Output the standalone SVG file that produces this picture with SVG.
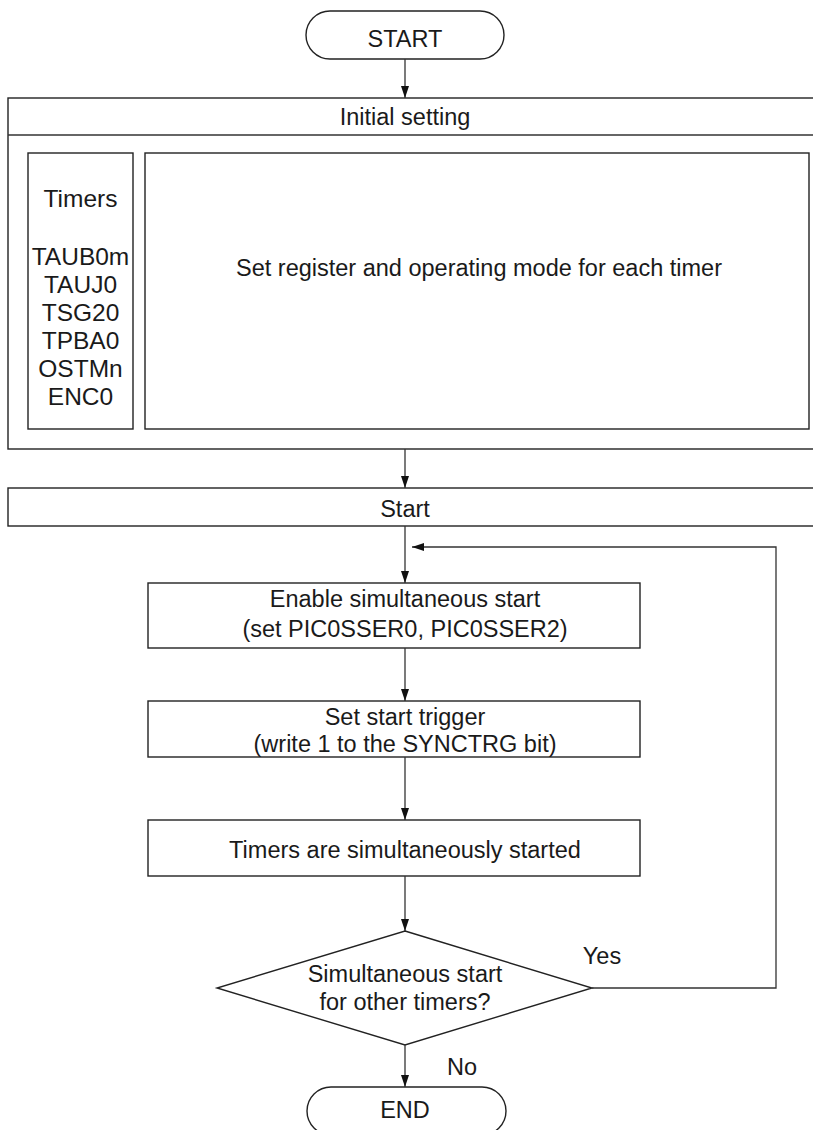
<svg xmlns="http://www.w3.org/2000/svg" width="813" height="1130" viewBox="0 0 813 1130">
<defs>
<style>
.s{fill:#fff;stroke:#222;stroke-width:1.4}
.ln{fill:none;stroke:#333;stroke-width:1.3}
text{font-family:"Liberation Sans",Arial,sans-serif;font-size:23.5px;fill:#1a1a1a;text-anchor:middle}
.tm{font-size:24.5px}
</style>
<marker id="ah" markerWidth="12" markerHeight="18" refX="18" refY="6" orient="auto" markerUnits="userSpaceOnUse" viewBox="0 0 18 12">
<path d="M0,0 L18,6 L0,12 Z" fill="#111"/>
</marker>
</defs>
<rect width="813" height="1130" fill="#fff"/>
<g id="start">
<rect class="s" x="306" y="11" width="198" height="48" rx="24" ry="24"/>
<text x="405" y="47">START</text>
</g>
<g id="initial">
<rect class="s" x="8" y="98" width="820" height="351"/>
<line class="ln" x1="8" y1="135" x2="828" y2="135"/>
<text x="405" y="125">Initial setting</text>
</g>
<g id="timers">
<rect class="s" x="28" y="153" width="105" height="276"/>
<text class="tm" x="80.5" y="207">Timers</text>
<text class="tm" x="80.5" y="265">TAUB0m</text>
<text class="tm" x="80.5" y="293">TAUJ0</text>
<text class="tm" x="80.5" y="321">TSG20</text>
<text class="tm" x="80.5" y="349">TPBA0</text>
<text class="tm" x="80.5" y="377">OSTMn</text>
<text class="tm" x="80.5" y="405">ENC0</text>
</g>
<g id="setreg">
<rect class="s" x="145" y="153" width="664" height="276"/>
<text x="479" y="276">Set register and operating mode for each timer</text>
</g>
<g id="startbar">
<rect class="s" x="8" y="488" width="820" height="38"/>
<text x="405" y="517">Start</text>
</g>
<g id="enable">
<rect class="s" x="148" y="583" width="492" height="65"/>
<text x="405" y="607">Enable simultaneous start</text>
<text x="405" y="637">(set PIC0SSER0, PIC0SSER2)</text>
</g>
<g id="trigger">
<rect class="s" x="148" y="701" width="492" height="56"/>
<text x="405" y="725">Set start trigger</text>
<text x="405" y="752">(write 1 to the SYNCTRG bit)</text>
</g>
<g id="started">
<rect class="s" x="148" y="820" width="492" height="56"/>
<text x="405" y="858">Timers are simultaneously started</text>
</g>
<g id="decision">
<polygon class="s" points="405,931 592,988 405,1045 217,988"/>
<text x="405" y="982">Simultaneous start</text>
<text x="405" y="1010">for other timers?</text>
</g>
<g id="end">
<rect class="s" x="307" y="1087" width="199" height="48" rx="24" ry="24"/>
<text x="405" y="1118">END</text>
</g>
<g id="connectors">
<line class="ln" x1="405" y1="59" x2="405" y2="98" marker-end="url(#ah)"/>
<line class="ln" x1="405" y1="449" x2="405" y2="488" marker-end="url(#ah)"/>
<line class="ln" x1="405" y1="526" x2="405" y2="583" marker-end="url(#ah)"/>
<line class="ln" x1="405" y1="648" x2="405" y2="701" marker-end="url(#ah)"/>
<line class="ln" x1="405" y1="757" x2="405" y2="820" marker-end="url(#ah)"/>
<line class="ln" x1="405" y1="876" x2="405" y2="931" marker-end="url(#ah)"/>
<line class="ln" x1="405" y1="1045" x2="405" y2="1087" marker-end="url(#ah)"/>
<polyline class="ln" points="592,988 776,988 776,547 412,547" marker-end="url(#ah)"/>
<text x="602" y="964">Yes</text>
<text x="462" y="1075">No</text>
</g>
</svg>
